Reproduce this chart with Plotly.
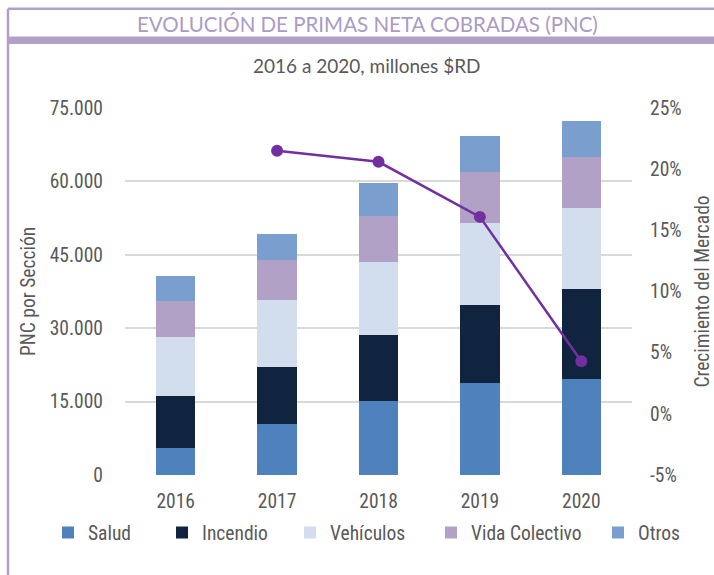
import plotly.graph_objects as go

years = ["2016", "2017", "2018", "2019", "2020"]
salud = [5500, 10450, 15100, 18750, 19550]
incendio = [10650, 11700, 13600, 15900, 18500]
vehiculos = [12050, 13600, 14900, 16750, 16500]
vida_colectivo = [7300, 8100, 9250, 10550, 10400]
otros = [5250, 5500, 6750, 7250, 7300]
crecimiento_years = ["2017", "2018", "2019", "2020"]
crecimiento = [0.215, 0.206, 0.161, 0.043]

left_ticks = [0, 15000, 30000, 45000, 60000, 75000]
left_ticktext = ["0", "15.000", "30.000", "45.000", "60.000", "75.000"]
right_ticks = [-0.05, 0, 0.05, 0.10, 0.15, 0.20, 0.25]
right_ticktext = ["-5%", "0%", "5%", "10%", "15%", "20%", "25%"]

series = [
    ("Salud", salud, "#4F81BD"),
    ("Incendio", incendio, "#10243F"),
    ("Vehículos", vehiculos, "#D2DEEE"),
    ("Vida Colectivo", vida_colectivo, "#B2A1C7"),
    ("Otros", otros, "#7A9FCE"),
]
legend_left_px = [48, 162, 290, 431, 598]

NARROW = "Roboto Condensed, DejaVu Sans Condensed, Liberation Sans Narrow, Roboto, sans-serif"
TITLEF = "Lato, Open Sans, sans-serif"
GRAY = "#595959"
PURPLE_L = "#B2A1C7"
FS = 19.5

# plot area: x 125..632, y 107.5..475
L, R, T, B = 125, 632, 107.5, 475
W, H = R - L, B - T
def px(x):
    return (x - L) / W
def py(y):
    return (B - y) / H

fig = go.Figure()
legends = {}
for i, (name, vals, col) in enumerate(series):
    lname = "legend" if i == 0 else f"legend{i + 1}"
    fig.add_trace(go.Bar(
        x=years, y=vals, name=name, width=0.39,
        marker=dict(color=col, line=dict(width=0)),
        yaxis="y", legend=lname,
    ))
    legends[lname] = dict(orientation="h", x=px(legend_left_px[i]), y=py(533),
                          xanchor="left", yanchor="middle",
                          font=dict(family=NARROW, size=FS, color=GRAY),
                          bgcolor="rgba(0,0,0,0)", borderwidth=0)

fig.add_trace(go.Scatter(
    x=crecimiento_years, y=crecimiento, yaxis="y2", mode="lines+markers",
    line=dict(color="#7030A0", width=2.5),
    marker=dict(color="#7030A0", size=12),
    showlegend=False, name="Crecimiento del Mercado",
))

shapes = [
    dict(type="line", xref="paper", yref="paper", x0=px(8), x1=px(714), y0=py(8), y1=py(8),
         line=dict(color=PURPLE_L, width=2.5)),
    dict(type="line", xref="paper", yref="paper", x0=px(8), x1=px(8), y0=py(8), y1=py(580),
         line=dict(color=PURPLE_L, width=2.5)),
    dict(type="rect", xref="paper", yref="paper", x0=px(8), x1=px(714), y0=py(36), y1=py(43.5),
         line=dict(width=0), fillcolor=PURPLE_L),
]

annotations = [
    dict(text="EVOLUCIÓN DE PRIMAS NETA COBRADAS (PNC)", xref="paper", yref="paper",
         x=px(367), y=py(23), xanchor="center", yanchor="middle", showarrow=False,
         font=dict(family=TITLEF, size=20.5, color="#AC9BC5")),
    dict(text="2016 a 2020, millones $RD", xref="paper", yref="paper",
         x=px(367), y=py(65), xanchor="center", yanchor="middle", showarrow=False,
         font=dict(family=TITLEF, size=19, color=GRAY)),
]

fig.update_layout(
    width=714, height=575,
    margin=dict(l=L, r=714 - R, t=T, b=575 - B, autoexpand=False),
    paper_bgcolor="white", plot_bgcolor="white",
    barmode="stack",
    font=dict(family=NARROW, size=FS, color=GRAY),
    shapes=shapes, annotations=annotations,
    showlegend=True,
    xaxis=dict(type="category", range=[-0.5, 4.5], showgrid=False, showline=False,
               ticks="", tickfont=dict(size=FS, color=GRAY), ticklabelstandoff=12),
    yaxis=dict(range=[0, 75000], tickvals=left_ticks, ticktext=left_ticktext,
               showgrid=True, gridcolor="#D9D9D9", gridwidth=1.5, zeroline=False,
               showline=False, ticks="", tickfont=dict(size=FS, color=GRAY),
               ticklabelstandoff=21,
               title=dict(text="PNC por Sección", standoff=8,
                          font=dict(size=FS, color=GRAY))),
    yaxis2=dict(range=[-0.05, 0.25], tickvals=right_ticks, ticktext=right_ticktext,
                overlaying="y", side="right", showgrid=False, zeroline=False,
                showline=False, ticks="", tickfont=dict(size=FS, color=GRAY),
                ticklabelstandoff=17,
                title=dict(text="Crecimiento del Mercado", standoff=16,
                           font=dict(size=FS, color=GRAY))),
    **legends,
)

fig.write_html("out.html", config={"displayModeBar": False},
               post_script="document.body.style.margin='0px';document.body.style.overflow='hidden';")
